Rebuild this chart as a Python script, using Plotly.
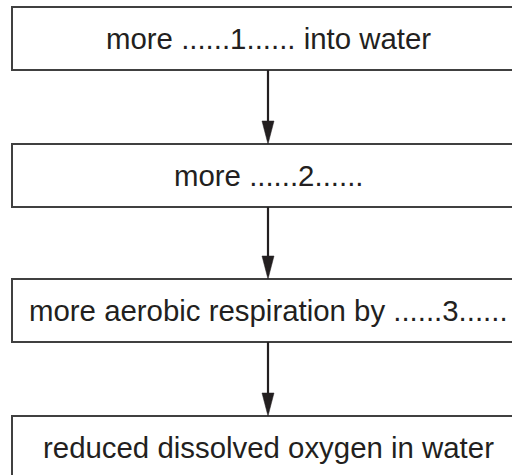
import plotly.graph_objects as go

# Flowchart content
steps = [
    "more ......1...... into water",
    "more ......2......",
    "more aerobic respiration by ......3......",
    "reduced dissolved oxygen in water",
]
box_tops = [7, 144, 279, 416]      # top edge of each box (px, from top)
box_height = 63
box_left, box_right = 12, 524
center_x = 268

W, H = 512, 475
fig = go.Figure()

shapes = []
annotations = []
for i, (label, top) in enumerate(zip(steps, box_tops)):
    bottom = top + box_height
    shapes.append(dict(type="rect", x0=box_left, x1=box_right, y0=top, y1=bottom,
                       line=dict(color="#404040", width=2), fillcolor="white", layer="below"))
    annotations.append(dict(x=center_x, y=(top + bottom) / 2, text=label, showarrow=False,
                            xanchor="center", yanchor="middle",
                            font=dict(family="Liberation Sans, Arial", size=29.4, color="#231f20")))
    if i < len(steps) - 1:
        nxt = box_tops[i + 1]
        head_len, head_w = 23, 6
        shapes.append(dict(type="line", x0=center_x, x1=center_x, y0=bottom, y1=nxt - head_len + 2,
                           line=dict(color="#231f20", width=2.2)))
        shapes.append(dict(type="path",
                           path=f"M {center_x - head_w} {nxt - head_len} L {center_x + head_w} {nxt - head_len} L {center_x} {nxt} Z",
                           fillcolor="#231f20", line=dict(color="#231f20", width=0.5)))

fig.update_layout(
    width=W, height=H, margin=dict(l=0, r=0, t=0, b=0),
    paper_bgcolor="white", plot_bgcolor="white",
    xaxis=dict(range=[0, W], visible=False, fixedrange=True),
    yaxis=dict(range=[H, 0], visible=False, fixedrange=True),
    shapes=shapes, annotations=annotations, showlegend=False,
)
fig.write_html("out.html", config={"displayModeBar": False})

# remove the default page margin so the figure fills the window
with open("out.html", encoding="utf-8") as f:
    html = f.read()
html = html.replace("<head>", "<head><style>html,body{margin:0;padding:0;overflow:hidden;}</style>", 1)
with open("out.html", "w", encoding="utf-8") as f:
    f.write(html)
